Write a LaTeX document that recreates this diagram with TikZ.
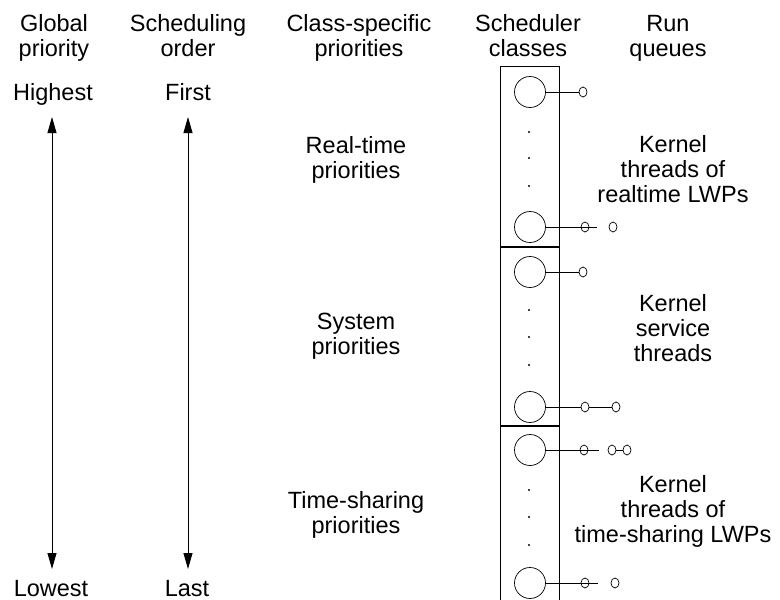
\documentclass[tikz,border=0pt]{standalone}
\usepackage{fontspec}
\setmainfont{Liberation Sans}
\usetikzlibrary{arrows.meta,shapes.geometric}

\begin{document}
\begin{tikzpicture}[x=1pt,y=-1pt,
    txt/.style={font=\fontsize{23.5}{25}\selectfont, align=center, inner sep=0pt, anchor=base},
    cls/.style={circle, draw, minimum size=31pt, inner sep=0pt, line width=0.7pt},
    q/.style={ellipse, draw, minimum width=8pt, minimum height=10pt, inner sep=0pt, line width=0.7pt},
    arrow/.style={{Triangle[length=16pt,width=9pt]}-{Triangle[length=16pt,width=9pt]}, line width=0.8pt},
    link/.style={line width=0.8pt}
]
    \useasboundingbox (0,0) rectangle (780,600);

    % column heads (base = last line)
    \node[txt] (hglobal) at (54,56) {Global\\priority};
    \node[txt] (horder) at (188,56) {Scheduling\\order};
    \node[txt] (hspecific) at (359,56) {Class-specific\\priorities};
    \node[txt] (hclasses) at (528,56) {Scheduler\\classes};
    \node[txt] (hqueues) at (668,56) {Run\\queues};

    % ends of the two scales
    \node[txt] (highest) at (53,100) {Highest};
    \node[txt] (first) at (188,100) {First};
    \node[txt] (lowest) at (51,596) {Lowest};
    \node[txt] (last) at (187,596) {Last};
    \coordinate (gtop) at (52,117);
    \coordinate (gbot) at (52,569);
    \coordinate (otop) at (188,117);
    \coordinate (obot) at (188,569);
    \draw[arrow] (gtop) -- (gbot);
    \draw[arrow] (otop) -- (obot);

    % class-specific priorities
    \node[txt] (realtime) at (356,178) {Real-time\\priorities};
    \node[txt] (system) at (356,354) {System\\priorities};
    \node[txt] (timeshare) at (356,533) {Time-sharing\\priorities};

    % run queue texts
    \node[txt] (rtthreads) at (673,202) {Kernel\\threads of\\realtime LWPs};
    \node[txt] (svthreads) at (673,361) {Kernel\\service\\threads};
    \node[txt] (tsthreads) at (673,542) {Kernel\\threads of\\time-sharing LWPs};

    % scheduler classes column
    \draw[line width=0.8pt] (500,600) -- (500,66) -- (559,66) -- (559,600);
    \draw[line width=1.6pt] (500,247) -- (559,247);
    \draw[line width=1.6pt] (500,426) -- (559,426);

    \node[cls] (c1) at (530,92) {};
    \node[cls] (c2) at (530,227) {};
    \node[cls] (c3) at (530,272) {};
    \node[cls] (c4) at (530,407) {};
    \node[cls] (c5) at (530,450) {};
    \node[cls] (c6) at (530,583) {};
    \foreach \y in {132,158,186,310,337,365,490,517,545}
        \fill (529,\y) circle (1.1pt);

    % queued threads
    \node[q] (q1) at (583,92) {};
    \draw[link] (c1) -- (q1);

    \node[q] (q2a) at (585,227) {};
    \node[q] (q2b) at (613,227) {};
    \coordinate (e2) at (597,227);
    \draw[link] (c2) -- (e2);

    \node[q] (q3) at (583,272) {};
    \draw[link] (c3) -- (q3);

    \node[q] (q4a) at (585,407) {};
    \node[q] (q4b) at (616,407) {};
    \draw[link] (c4) -- (q4a) -- (q4b);

    \node[q] (q5a) at (584,450) {};
    \node[q] (q5b) at (612,450) {};
    \node[q] (q5c) at (627,450) {};
    \coordinate (e5) at (599,450);
    \draw[link] (c5) -- (e5);
    \draw[link] (q5b) -- (q5c);

    \node[q] (q6a) at (585,583) {};
    \node[q] (q6b) at (615,583) {};
    \coordinate (e6) at (598,583);
    \draw[link] (c6) -- (e6);
\end{tikzpicture}
\end{document}
